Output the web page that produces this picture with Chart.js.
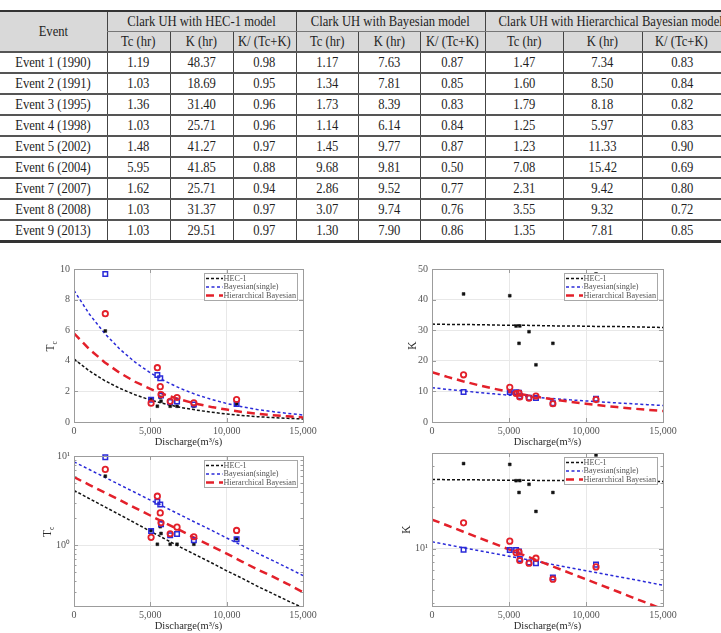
<!DOCTYPE html>
<html>
<head>
<meta charset="utf-8">
<script src="https://cdn.jsdelivr.net/npm/chart.js@4.4.1/dist/chart.umd.min.js"></script>
<style>
  body { margin: 0; background: #fff; width: 721px; height: 633px; overflow: hidden; position: relative;
         font-family: 'Liberation Serif', 'Times New Roman', serif; }
  #tbl { position: absolute; left: 0; top: 10px; width: 721px; border-collapse: collapse; table-layout: fixed;
         font-size: 14px; color: #1e1e1e; }
  #tbl th, #tbl td { height: 19px; padding: 0; text-align: center; font-weight: normal; white-space: nowrap;
         overflow: hidden; border-left: 1px solid #444; border-bottom: 2px solid #555; }
  #tbl th { background: #d9d9d9; }
  #tbl .first { border-left: none; }
  #tbl thead tr:first-child th { border-top: 2px solid #333; }
  #tbl thead tr:first-child th.grp { border-bottom: 1px solid #777; }
  #tbl tbody tr:last-child td { border-bottom: 3px solid #333; }
  .s { display: inline-block; transform: scaleX(0.9); }
  canvas { position: absolute; }
</style>
</head>
<body>
<table id="tbl"></table>
<canvas id="tcLin" width="300" height="205" style="left:20px;top:250px"></canvas>
<canvas id="kLin" width="300" height="205" style="left:380px;top:250px"></canvas>
<canvas id="tcLog" width="300" height="193" style="left:20px;top:440px"></canvas>
<canvas id="kLog" width="300" height="193" style="left:380px;top:440px"></canvas>
<script>
// table values
const events = ['Event 1 (1990)', 'Event 2 (1991)', 'Event 3 (1995)', 'Event 4 (1998)', 'Event 5 (2002)',
                'Event 6 (2004)', 'Event 7 (2007)', 'Event 8 (2008)', 'Event 9 (2013)'];
const modelNames = ['Clark UH with HEC-1 model', 'Clark UH with Bayesian model', 'Clark UH with Hierarchical Bayesian model'];
const paramCols = ['Tc (hr)', 'K (hr)', 'K/ (Tc+K)'];
const hecTc = [1.19, 1.03, 1.36, 1.03, 1.48, 5.95, 1.62, 1.03, 1.03];
const hecK = [48.37, 18.69, 31.40, 25.71, 41.27, 41.85, 25.71, 31.37, 29.51];
const hecRatio = [0.98, 0.95, 0.96, 0.96, 0.97, 0.88, 0.94, 0.97, 0.97];
const bayTc = [1.17, 1.34, 1.73, 1.14, 1.45, 9.68, 2.86, 3.07, 1.30];
const bayK = [7.63, 7.81, 8.39, 6.14, 9.77, 9.81, 9.52, 9.74, 7.90];
const bayRatio = [0.87, 0.85, 0.83, 0.84, 0.87, 0.50, 0.77, 0.76, 0.86];
const hbTc = [1.47, 1.60, 1.79, 1.25, 1.23, 7.08, 2.31, 3.55, 1.35];
const hbK = [7.34, 8.50, 8.18, 5.97, 11.33, 15.42, 9.42, 9.32, 7.81];
const hbRatio = [0.83, 0.84, 0.82, 0.83, 0.90, 0.69, 0.80, 0.72, 0.85];

// peak discharge of each event
const discharge = [10650, 6750, 5700, 7850, 5050, 2050, 5650, 5460, 6300];

// fitted curves
const fitQ = [0, 1000, 2000, 3000, 4000, 5000, 6000, 7000, 8000, 9000, 10000, 11000, 12000, 13000, 14000, 15000];
const tcFitHec = [4.12, 3.34, 2.71, 2.20, 1.78, 1.44, 1.17, 0.95, 0.78, 0.64, 0.52, 0.43, 0.35, 0.29, 0.24, 0.20];
const tcFitBay = [8.60, 7.06, 5.80, 4.76, 3.91, 3.21, 2.65, 2.18, 1.79, 1.48, 1.21, 1.00, 0.82, 0.68, 0.56, 0.46];
const tcFitHb = [5.80, 4.76, 3.91, 3.21, 2.63, 2.16, 1.77, 1.46, 1.19, 0.98, 0.81, 0.66, 0.54, 0.45, 0.37, 0.30];
const kFitHec = [32.0, 31.9, 31.9, 31.8, 31.7, 31.6, 31.6, 31.5, 31.4, 31.4, 31.3, 31.2, 31.2, 31.1, 31.0, 30.9];
const kFitBay = [11.20, 10.67, 10.16, 9.68, 9.22, 8.78, 8.37, 7.97, 7.59, 7.23, 6.89, 6.56, 6.25, 5.96, 5.67, 5.40];
const kFitHb = [16.30, 14.74, 13.33, 12.05, 10.90, 9.85, 8.91, 8.06, 7.28, 6.59, 5.96, 5.39, 4.87, 4.40, 3.98, 3.60];

// axis ticks
const xTicks = [0, 5000, 10000, 15000];
const tcTicks = [0, 2, 4, 6, 8, 10];
const kTicks = [0, 10, 20, 30, 40, 50];
const tcLogTicks = [0.3, 0.4, 0.5, 0.6, 0.7, 0.8, 0.9, 1, 2, 3, 4, 5, 6, 7, 8, 9, 10];
const kLogTicks = [4, 5, 6, 7, 8, 9, 10, 20, 30, 40, 50];
const logMajor = [1, 10];
const logLabels = { 1: '10\u2070', 10: '10\u00b9' };

// ---- table ----
function buildTable() {
  const widths = [107, 63, 63, 63, 62, 62, 65, 78, 79, 79];
  let html = '<colgroup>' + widths.map(w => `<col style="width:${w}px">`).join('') + '</colgroup><thead>';
  html += '<tr><th class="first" rowspan="2"><span class="s">Event</span></th>' +
    modelNames.map(m => `<th class="grp" colspan="3"><span class="s">${m}</span></th>`).join('') + '</tr>';
  html += '<tr>' + modelNames.map(() => paramCols.map(p => `<th><span class="s">${p}</span></th>`).join('')).join('') + '</tr>';
  html += '</thead><tbody>';
  events.forEach((ev, i) => {
    const vals = [hecTc[i], hecK[i], hecRatio[i], bayTc[i], bayK[i], bayRatio[i], hbTc[i], hbK[i], hbRatio[i]];
    html += `<tr><td class="first"><span class="s">${ev}</span></td>` +
      vals.map(v => `<td><span class="s">${v.toFixed(2)}</span></td>`).join('') + '</tr>';
  });
  html += '</tbody>';
  document.getElementById('tbl').innerHTML = html;
}
buildTable();

// ---- charts ----
const FONT = 'Liberation Serif';
const BLACK = '#111111', BLUE = '#2a2ad8', RED = '#e3202a';

const pts = (xs, ys) => xs.map((x, i) => ({ x: x, y: ys[i] }));

// box, inward ticks and axis titles like the original plots
const matlabAxes = {
  id: 'matlabAxes',
  afterDatasetsDraw(chart, args, o) {
    const { ctx, chartArea: a, scales: { x, y } } = chart;
    ctx.save();
    ctx.strokeStyle = '#9c9c9c';
    ctx.lineWidth = 1;
    ctx.beginPath();
    x.ticks.forEach(t => {
      const px = Math.round(x.getPixelForValue(t.value)) + 0.5;
      ctx.moveTo(px, a.bottom); ctx.lineTo(px, a.bottom - 4);
      ctx.moveTo(px, a.top); ctx.lineTo(px, a.top + 4);
    });
    y.ticks.forEach(t => {
      const py = Math.round(y.getPixelForValue(t.value)) + 0.5;
      const len = (!o.yMajor || o.yMajor.includes(t.value)) ? 4 : 2.5;
      ctx.moveTo(a.left, py); ctx.lineTo(a.left + len, py);
      ctx.moveTo(a.right, py); ctx.lineTo(a.right - len, py);
    });
    ctx.stroke();
    ctx.strokeRect(Math.round(a.left) + 0.5, Math.round(a.top) + 0.5, Math.round(a.width), Math.round(a.height));

    // titles
    ctx.fillStyle = '#2a2a2a';
    ctx.textAlign = 'center';
    ctx.textBaseline = 'middle';
    ctx.font = `10.5px "${FONT}"`;
    ctx.fillText('Discharge(m\u00b3/s)', (a.left + a.right) / 2, a.bottom + 20);
    ctx.translate(a.left - o.yGap, (a.top + a.bottom) / 2);
    ctx.rotate(-Math.PI / 2);
    ctx.font = `11.5px "${FONT}"`;
    ctx.textAlign = 'left';
    const w = ctx.measureText(o.yTitle).width;
    const sw = o.ySub ? 5 : 0;
    ctx.fillText(o.yTitle, -(w + sw) / 2, 0);
    if (o.ySub) {
      ctx.font = `7.5px "${FONT}"`;
      ctx.fillText(o.ySub, -(w + sw) / 2 + w, 4);
    }
    ctx.restore();
  }
};

// legend in a framed box inside the upper right corner
const boxLegend = {
  id: 'boxLegend',
  afterDraw(chart) {
    const { ctx, chartArea: a } = chart;
    const items = chart.data.datasets.filter(d => d.inLegend);
    const w = 93, rowH = 8.5, h = items.length * rowH + 1.5;
    const x = Math.round(a.right - 6 - w), y = Math.round(a.top + 4);
    ctx.save();
    ctx.fillStyle = '#fff';
    ctx.fillRect(x, y, w, h);
    ctx.strokeStyle = '#a8a8a8';
    ctx.lineWidth = 1;
    ctx.strokeRect(x + 0.5, y + 0.5, w, h);
    items.forEach((d, i) => {
      const cy = y + 5.5 + i * rowH;
      ctx.setLineDash(d.borderDash);
      ctx.strokeStyle = d.borderColor;
      ctx.lineWidth = d.borderWidth;
      ctx.beginPath();
      ctx.moveTo(x + 2, cy);
      ctx.lineTo(x + 19, cy);
      ctx.stroke();
      ctx.setLineDash([]);
      ctx.fillStyle = '#555';
      ctx.font = `8.2px "${FONT}"`;
      ctx.textBaseline = 'middle';
      ctx.fillText(d.label, x + 19.5, cy);
    });
    ctx.restore();
  }
};

function buildDatasets(ys, fits) {
  return [
    { label: 'HEC-1', data: pts(fitQ, fits[0]), showLine: true, pointRadius: 0, borderColor: BLACK,
      borderWidth: 1.5, borderDash: [3, 2], inLegend: true, clip: 0, order: 5 },
    { label: 'Bayesian(single)', data: pts(fitQ, fits[1]), showLine: true, pointRadius: 0, borderColor: BLUE,
      borderWidth: 1.5, borderDash: [3, 2.5], inLegend: true, clip: 0, order: 4 },
    { label: 'Hierarchical Bayesian', data: pts(fitQ, fits[2]), showLine: true, pointRadius: 0, borderColor: RED,
      borderWidth: 2.5, borderDash: [8, 5], inLegend: true, clip: 0, order: 3 },
    { label: 'HEC-1 events', data: pts(discharge, ys[0]), pointStyle: 'rect', pointRadius: 2,
      backgroundColor: BLACK, borderColor: BLACK, borderWidth: 0.5, clip: false, order: 2 },
    { label: 'Bayesian events', data: pts(discharge, ys[1]), pointStyle: 'rect', pointRadius: 3.2,
      backgroundColor: 'rgba(255,255,255,0)', borderColor: BLUE, borderWidth: 1.5, clip: false, order: 1 },
    { label: 'HB events', data: pts(discharge, ys[2]), pointStyle: 'circle', pointRadius: 2.7,
      backgroundColor: 'rgba(255,255,255,0)', borderColor: RED, borderWidth: 1.8, clip: false, order: 0 }
  ];
}

function makeChart(id, c) {
  const tickFont = { family: FONT, size: 10 };
  const isMajorY = v => !c.yMajor || c.yMajor.includes(v);
  return new Chart(document.getElementById(id), {
    type: 'scatter',
    data: { datasets: c.datasets },
    options: {
      responsive: false,
      animation: false,
      devicePixelRatio: 1,
      layout: { padding: { left: 0, right: c.padRight, top: c.padTop, bottom: 0 } },
      plugins: {
        legend: { display: false },
        tooltip: { enabled: false },
        matlabAxes: { yTitle: c.yTitle, ySub: c.ySub, yGap: c.yGap, yMajor: c.yMajor }
      },
      scales: {
        x: {
          type: 'linear', min: 0, max: 15000,
          afterBuildTicks: ax => { ax.ticks = xTicks.map(v => ({ value: v })); },
          afterFit: s => { s.height = c.xHeight; s.paddingLeft = 0; s.paddingRight = 0; },
          ticks: { callback: v => v.toLocaleString('en-US'), padding: 3, maxRotation: 0, autoSkip: false,
                   font: tickFont, color: '#555' },
          grid: { color: '#e8e8e8', drawTicks: false },
          border: { display: false }
        },
        y: {
          type: c.yType, min: c.yMin, max: c.yMax,
          afterBuildTicks: ax => { ax.ticks = c.yTicks.map(v => ({ value: v })); },
          afterFit: s => { s.width = c.yWidth; s.paddingTop = 0; s.paddingBottom = 0; },
          ticks: { callback: c.yLabel, padding: 4, autoSkip: false, font: tickFont, color: '#555' },
          grid: { color: ctx => isMajorY(ctx.tick.value) ? '#e8e8e8' : 'rgba(0,0,0,0)', drawTicks: false },
          border: { display: false }
        }
      }
    },
    plugins: [matlabAxes, boxLegend]
  });
}

const linLabel = v => String(v);
const logLabel = v => logLabels[v] || '';

makeChart('tcLin', {
  datasets: buildDatasets([hecTc, bayTc, hbTc], [tcFitHec, tcFitBay, tcFitHb]),
  yType: 'linear', yMin: 0, yMax: 10, yTicks: tcTicks, yLabel: linLabel,
  yWidth: 54, xHeight: 33, padTop: 19, padRight: 17, yTitle: 'T', ySub: 'c', yGap: 23
});
makeChart('kLin', {
  datasets: buildDatasets([hecK, bayK, hbK], [kFitHec, kFitBay, kFitHb]),
  yType: 'linear', yMin: 0, yMax: 50, yTicks: kTicks, yLabel: linLabel,
  yWidth: 52, xHeight: 33, padTop: 19, padRight: 17, yTitle: 'K', ySub: '', yGap: 19
});
makeChart('tcLog', {
  datasets: buildDatasets([hecTc, bayTc, hbTc], [tcFitHec, tcFitBay, tcFitHb]),
  yType: 'logarithmic', yMin: 0.21, yMax: 10, yTicks: tcLogTicks, yLabel: logLabel, yMajor: logMajor,
  yWidth: 54, xHeight: 27, padTop: 16, padRight: 17, yTitle: 'T', ySub: 'c', yGap: 26
});
makeChart('kLog', {
  datasets: buildDatasets([hecK, bayK, hbK], [kFitHec, kFitBay, kFitHb]),
  yType: 'logarithmic', yMin: 3.8, yMax: 50, yTicks: kLogTicks, yLabel: logLabel, yMajor: [10],
  yWidth: 52, xHeight: 27, padTop: 13, padRight: 17, yTitle: 'K', ySub: '', yGap: 25
});
</script>
</body>
</html>
